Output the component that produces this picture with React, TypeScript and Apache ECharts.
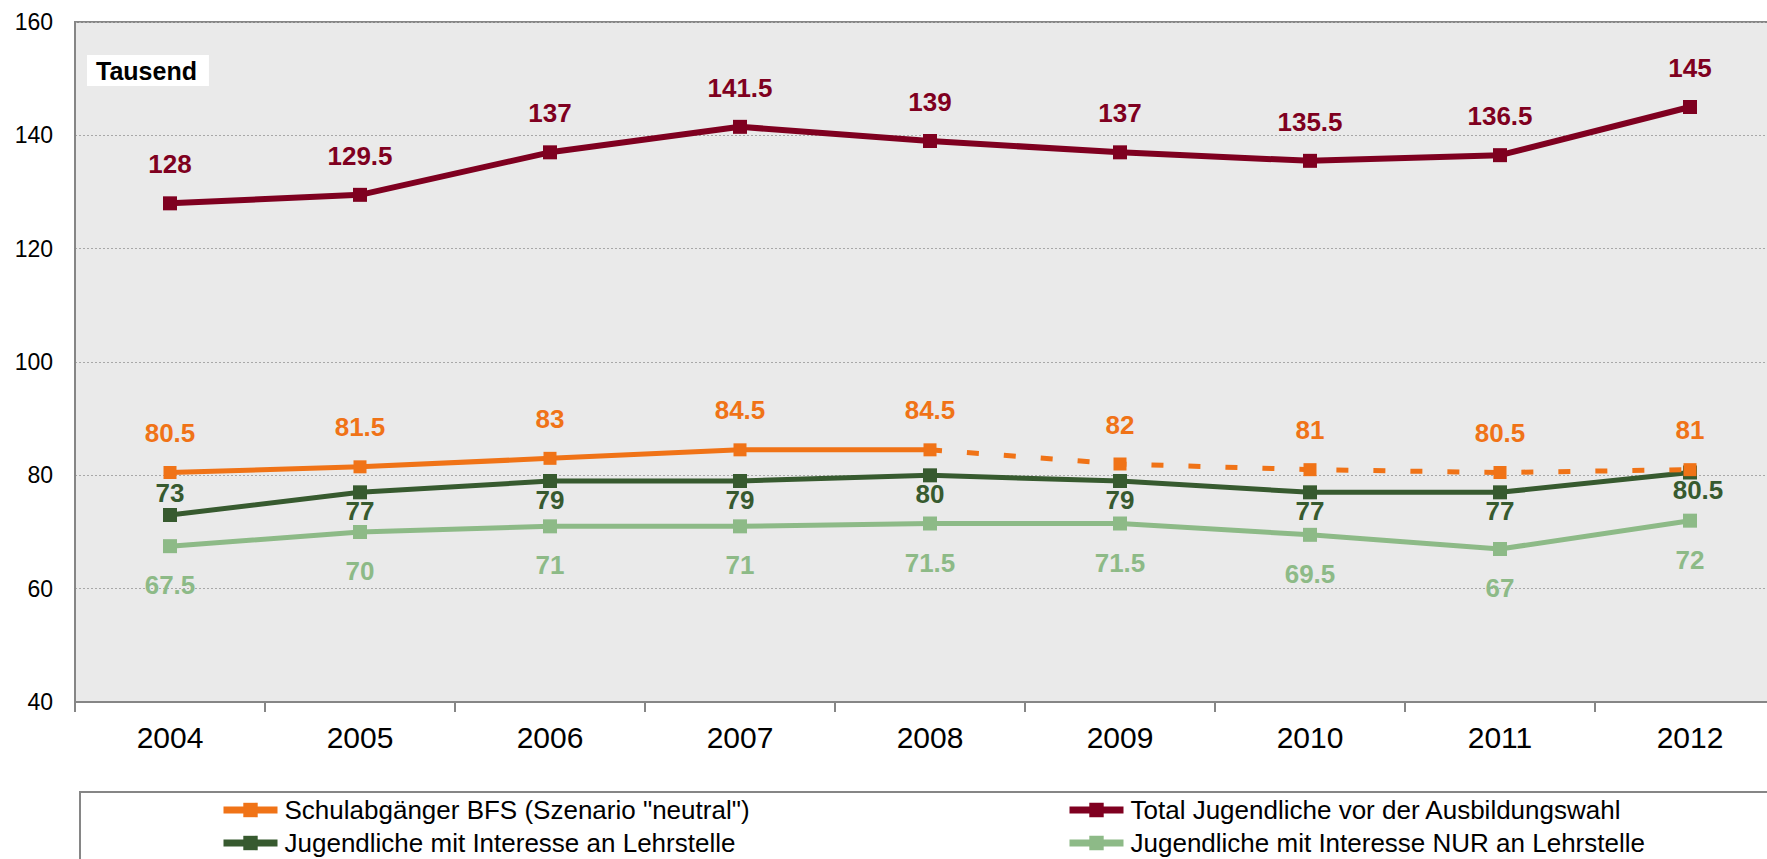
import React, { useEffect, useRef } from "react";
import * as echarts from "echarts";

const years = ["2004", "2005", "2006", "2007", "2008", "2009", "2010", "2011", "2012"];
const totalJugendliche = [128, 129.5, 137, 141.5, 139, 137, 135.5, 136.5, 145];
const schulabgaenger = [80.5, 81.5, 83, 84.5, 84.5, 82, 81, 80.5, 81];
const interesseLehrstelle = [73, 77, 79, 79, 80, 79, 77, 77, 80.5];
const nurLehrstelle = [67.5, 70, 71, 71, 71.5, 71.5, 69.5, 67, 72];
const lastMeasuredIndex = 4; // 2008: solid up to here, dashed (scenario) afterwards
const yMin = 40;
const yMax = 160;
const yInterval = 20;

const names = {
  schul: 'Schulabgänger BFS (Szenario "neutral")',
  total: "Total Jugendliche vor der Ausbildungswahl",
  interesse: "Jugendliche mit Interesse an Lehrstelle",
  nur: "Jugendliche mit Interesse NUR an Lehrstelle",
};

const colors = {
  total: "#7F0020",
  schul: "#F07317",
  interesse: "#375A2F",
  nur: "#8DBA87",
};

const FONT = 'Arial, "Liberation Sans", Helvetica, sans-serif';
const CHART_W = 1800;
const CHART_H = 859;

function legendItem(name: string, left: number, top: number) {
  return {
    left,
    top,
    padding: 0,
    orient: "horizontal",
    itemWidth: 54,
    itemHeight: 18,
    lineStyle: { width: 7 },
    textStyle: { fontFamily: FONT, fontSize: 26, color: "#000", lineHeight: 26, padding: [0, 0, 0, 2] },
    data: [name],
  };
}

export default function App() {
  const ref = useRef<HTMLDivElement>(null);

  useEffect(() => {
    if (!ref.current) return;
    const chart = echarts.init(ref.current, undefined, { renderer: "svg" });

    const labelBase = { show: true, fontFamily: FONT, fontSize: 26, fontWeight: "bold" as const };

    const solidSchul = schulabgaenger.map((v, i) => (i <= lastMeasuredIndex ? v : null));
    const dashedSchul = schulabgaenger.map((v, i) =>
      i < lastMeasuredIndex ? null : i === lastMeasuredIndex ? { value: v, symbol: "none", label: { show: false } } : v
    );
    const interesseData = interesseLehrstelle.map((v, i) =>
      i === 0
        ? { value: v, label: { position: "top", distance: 2, offset: [0, 0] } }
        : i === interesseLehrstelle.length - 1
        ? { value: v, label: { offset: [8, -3] } }
        : v
    );

    chart.setOption({
      animation: false,
      textStyle: { fontFamily: FONT },
      title: {
        text: "Tausend",
        left: 87,
        top: 55,
        padding: [3, 12, 3, 9],
        backgroundColor: "#ffffff",
        textStyle: { fontFamily: FONT, fontSize: 25, fontWeight: "bold", color: "#000", lineHeight: 25 },
      },
      grid: {
        left: 75,
        top: 22,
        right: CHART_W - 1785,
        bottom: 157,
        show: true,
        backgroundColor: "#EAEAEA",
        borderColor: "#868686",
        borderWidth: 2,
        containLabel: false,
      },
      graphic: [
        {
          type: "rect",
          z: -1,
          shape: { x: 80, y: 792, width: 1800, height: 200 },
          style: { fill: "#ffffff", stroke: "#868686", lineWidth: 2 },
        },
      ],
      legend: [
        legendItem(names.schul, 220, 797),
        legendItem(names.interesse, 220, 830),
        legendItem(names.total, 1066, 797),
        legendItem(names.nur, 1066, 830),
      ],
      xAxis: {
        type: "category",
        data: years,
        boundaryGap: true,
        axisLine: { show: true, lineStyle: { color: "#868686", width: 2 } },
        axisTick: { show: true, length: 10, lineStyle: { color: "#868686", width: 2 } },
        axisLabel: { fontFamily: FONT, fontSize: 30, color: "#000", margin: 20 },
        splitLine: { show: false },
      },
      yAxis: {
        type: "value",
        min: yMin,
        max: yMax,
        interval: yInterval,
        axisLine: { show: true, lineStyle: { color: "#868686", width: 2 } },
        axisTick: { show: false },
        axisLabel: { fontFamily: FONT, fontSize: 23, color: "#000", margin: 22 },
        splitLine: { show: true, lineStyle: { color: "#A8A8A8", width: 1, type: [2, 2] } },
      },
      series: [
        {
          name: names.nur,
          type: "line",
          data: nurLehrstelle,
          symbol: "rect",
          symbolSize: 14,
          lineStyle: { color: colors.nur, width: 5 },
          itemStyle: { color: colors.nur },
          label: { ...labelBase, color: colors.nur, position: "bottom", distance: 19 },
          z: 2,
        },
        {
          name: names.interesse,
          type: "line",
          data: interesseData,
          symbol: "rect",
          symbolSize: 14,
          lineStyle: { color: colors.interesse, width: 5 },
          itemStyle: { color: colors.interesse },
          label: { ...labelBase, color: colors.interesse, position: "bottom", distance: 0, offset: [0, -1] },
          z: 3,
        },
        {
          name: names.schul,
          type: "line",
          data: solidSchul,
          symbol: "rect",
          symbolSize: 13,
          lineStyle: { color: colors.schul, width: 5 },
          itemStyle: { color: colors.schul },
          label: { ...labelBase, color: colors.schul, position: "top", distance: 20 },
          z: 4,
        },
        {
          name: names.schul,
          type: "line",
          data: dashedSchul,
          symbol: "rect",
          symbolSize: 13,
          lineStyle: { color: colors.schul, width: 5, type: [12, 25] },
          itemStyle: { color: colors.schul },
          label: { ...labelBase, color: colors.schul, position: "top", distance: 20 },
          z: 4,
        },
        {
          name: names.total,
          type: "line",
          data: totalJugendliche,
          symbol: "rect",
          symbolSize: 14,
          lineStyle: { color: colors.total, width: 6 },
          itemStyle: { color: colors.total },
          label: { ...labelBase, color: colors.total, position: "top", distance: 19 },
          z: 5,
        },
      ],
    });

    return () => chart.dispose();
  }, []);

  return (
    <div style={{ position: "absolute", left: 0, top: 0, width: 1767, height: 859, overflow: "hidden", background: "#fff" }}>
      <div ref={ref} style={{ position: "absolute", left: 0, top: 0, width: CHART_W, height: CHART_H }} />
    </div>
  );
}
